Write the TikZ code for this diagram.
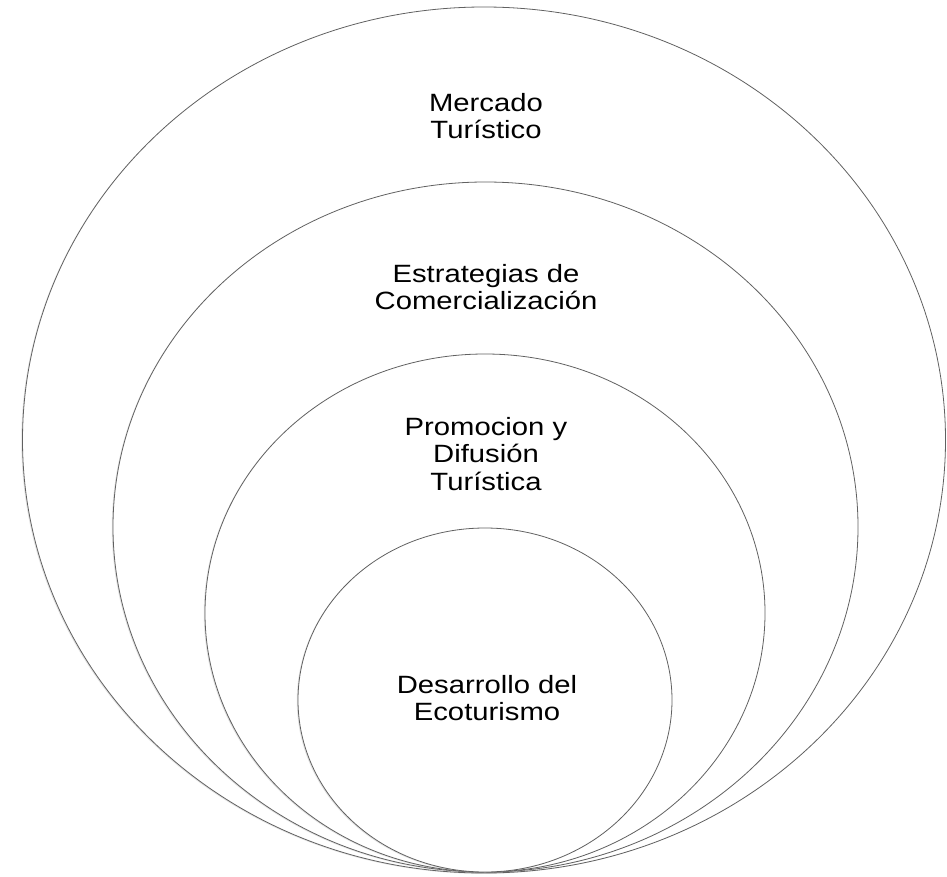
\documentclass[tikz,border=0pt]{standalone}
\usepackage{fontspec}
\setmainfont[FakeStretch=1.17]{Liberation Sans}
\usetikzlibrary{shapes.geometric,shadows}
\begin{document}
\begin{tikzpicture}[x=1pt,y=-1pt,
  ring/.style={ellipse, draw=black!62, line width=0.8pt, fill=white, inner sep=0pt,
    drop shadow={shadow xshift=-1.2pt, shadow yshift=-0.8pt, opacity=0.22}},
  label/.style={align=center, text=black, inner sep=0pt,
    font=\fontsize{25}{27.5}\selectfont}]
  \useasboundingbox (0,0) rectangle (947,877);
  % nested rings, all touching at the bottom
  \node[ring, minimum width=923pt, minimum height=866pt] (mercado) at (484,440) {};
  \node[ring, minimum width=745pt, minimum height=690pt] (estrategias) at (485.5,527) {};
  \node[ring, minimum width=560pt, minimum height=518pt] (promocion) at (485,613) {};
  \node[ring, minimum width=374pt, minimum height=344pt] (desarrollo) at (485,700) {};
  % ring captions
  \node[label] (tmercado) at (486,116) {Mercado\\Turístico};
  \node[label] (testrategias) at (486,287) {Estrategias de\\Comercialización};
  \node[label] (tpromocion) at (486,454) {Promocion y\\Difusión\\Turística};
  \node[label] (tdesarrollo) at (487,698) {Desarrollo del\\Ecoturismo};
\end{tikzpicture}
\end{document}
